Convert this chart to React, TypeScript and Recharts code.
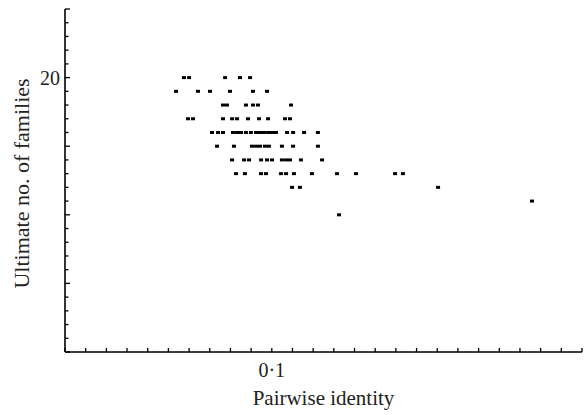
import { Scatter, ScatterChart, XAxis, YAxis } from 'recharts';

const SERIF = '"Liberation Serif", "Times New Roman", serif';

// identity values for each family count (one row of points per count)
const families = [20, 19, 18, 17, 16, 15, 14, 13, 12, 11, 10];
const identityAt20 = [0.0575, 0.06, 0.0774, 0.0846, 0.0895];
const identityAt19 = [0.0537, 0.0643, 0.0701, 0.0798, 0.0909, 0.0977];
const identityAt18 = [0.0764, 0.0783, 0.0875, 0.0909, 0.0933, 0.1093];
const identityAt17 = [0.0595, 0.0619, 0.0764, 0.0808, 0.0832, 0.0885, 0.0938, 0.0982, 0.1064, 0.1088];
const identityAt16 = [
  0.0711, 0.074, 0.0764, 0.0812, 0.0832, 0.0851, 0.0875, 0.0899, 0.0924, 0.0943, 0.0962, 0.0982,
  0.1001, 0.102, 0.1074, 0.1103, 0.1156, 0.1223,
];
const identityAt15 = [0.0735, 0.0817, 0.0904, 0.0924, 0.0943, 0.0967, 0.0986, 0.1049, 0.1103, 0.1223];
const identityAt14 = [0.0808, 0.0866, 0.089, 0.0948, 0.0977, 0.1001, 0.1049, 0.1069, 0.1088, 0.1141, 0.1243];
const identityAt13 = [0.0827, 0.087, 0.0948, 0.0972, 0.1044, 0.1069, 0.1107, 0.1194, 0.1315, 0.1407, 0.1596, 0.1634];
const identityAt12 = [0.1098, 0.1136, 0.1804];
const identityAt11 = [0.2258];
const identityAt10 = [0.1325];

const identityRows = [
  identityAt20, identityAt19, identityAt18, identityAt17, identityAt16, identityAt15,
  identityAt14, identityAt13, identityAt12, identityAt11, identityAt10,
];

const points = identityRows.flatMap((row, i) => row.map((identity) => ({ identity, families: families[i] })));

const xTicks: number[] = [];
for (let i = 0; i <= 25; i++) xTicks.push(i / 100);
const yTicks: number[] = [];
for (let i = 0; i <= 25; i++) yTicks.push(i);

const labelledX = [0.1];
const labelledY = [20];

function XTick({ x, y, payload }: any) {
  const v = payload.value;
  const shown = labelledX.some((t) => Math.abs(t - v) < 1e-9);
  return (
    <g>
      <line x1={x} x2={x} y1={y} y2={y - 4} stroke="#000" strokeWidth={1.3} />
      {shown && (
        <text x={x} y={y + 25} textAnchor="middle" fontFamily={SERIF} fontSize={20} fill="#222">
          {String(v).replace('.', '·')}
        </text>
      )}
    </g>
  );
}

function YTick({ x, y, payload }: any) {
  const v = payload.value;
  const len = v % 5 === 0 ? 5 : 3.5;
  return (
    <g>
      <line x1={x} x2={x + len} y1={y} y2={y} stroke="#000" strokeWidth={1.3} />
      {labelledY.includes(v) && (
        <text x={x - 5} y={y + 7} textAnchor="end" fontFamily={SERIF} fontSize={20} fill="#222">
          {v}
        </text>
      )}
    </g>
  );
}

function XTitle({ viewBox }: any) {
  return (
    <text x={viewBox.x + viewBox.width / 2} y={viewBox.y + 53} textAnchor="middle" fontFamily={SERIF} fontSize={21} fill="#222">
      Pairwise identity
    </text>
  );
}

function YTitle({ viewBox }: any) {
  const cx = viewBox.x + 29;
  const cy = viewBox.y + viewBox.height / 2 + 3;
  return (
    <text x={cx} y={cy} transform={`rotate(-90, ${cx}, ${cy})`} textAnchor="middle" fontFamily={SERIF} fontSize={22} fill="#222">
      Ultimate no. of families
    </text>
  );
}

function Dot({ cx, cy }: any) {
  return <rect x={cx - 2} y={cy - 1.5} width={4} height={3} fill="#000" />;
}

export default function App() {
  return (
    <div style={{ position: 'absolute', left: 0, top: 0, background: '#fff' }}>
      <ScatterChart width={585} height={415} margin={{ top: 9, right: 3, bottom: 0, left: 0 }}>
        <XAxis
          type="number"
          dataKey="identity"
          domain={[0, 0.25]}
          ticks={xTicks}
          interval={0}
          height={63}
          tickSize={0}
          tickMargin={0}
          tickLine={false}
          tick={XTick}
          axisLine={{ stroke: '#000', strokeWidth: 1.6 }}
          label={XTitle}
          allowDataOverflow
        />
        <YAxis
          type="number"
          dataKey="families"
          domain={[0, 25]}
          ticks={yTicks}
          interval={0}
          width={65}
          tickSize={0}
          tickMargin={0}
          tickLine={false}
          tick={YTick}
          axisLine={{ stroke: '#000', strokeWidth: 1.6 }}
          label={YTitle}
          allowDataOverflow
        />
        <Scatter data={points} shape={Dot} isAnimationActive={false} />
      </ScatterChart>
    </div>
  );
}
